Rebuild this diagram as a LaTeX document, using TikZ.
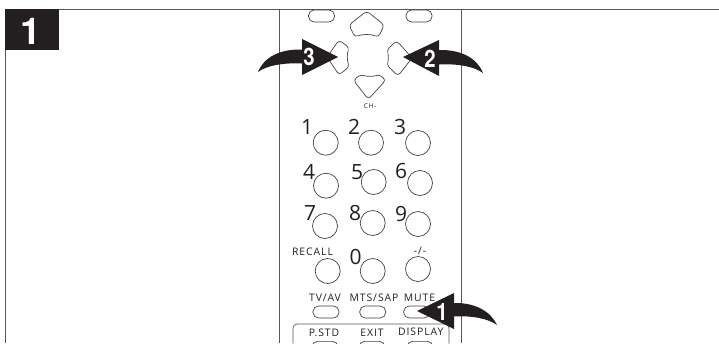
\documentclass[tikz,border=0pt]{standalone}
\usepackage{fontspec}
\setmainfont{Open Sans}
\newfontfamily\heros{TeX Gyre Heros}
\newfontfamily\spaced[LetterSpace=9]{Open Sans}
\definecolor{ink}{HTML}{231F20}
\tikzset{x=1pt,y=-1pt,
 rim/.style={draw=ink!75,line width=0.9pt},
 btn/.style={draw=ink!85,line width=0.7pt,fill=white},
 rnd/.style={btn,circle,minimum size=25pt,inner sep=0pt},
 pill/.style={btn,rounded corners=5.5pt,minimum width=26pt,minimum height=12pt,inner sep=0pt},
 dig/.style={font=\fontsize{21}{21}\selectfont,text=ink,inner sep=0pt},
 lab/.style={font=\spaced\fontsize{10.4}{11}\selectfont,text=ink,inner sep=0pt},
 bubble/.style={font=\heros\bfseries\fontsize{24}{24}\selectfont,text=white,inner sep=0pt,xscale=0.85},
 arr/.style={fill=ink,draw=none}}
\begin{document}
\begin{tikzpicture}
\useasboundingbox (0,0) rectangle (719,343);
\begin{scope}
\clip (0,0) rectangle (719,343);
% frame
\draw[rim,line width=1.7pt] (5,9.5) -- (719,9.5);
\draw[rim] (5,9) -- (5,343);
\draw[rim] (279,9.5) -- (279,343);
\draw[rim] (461,9.5) -- (461,343);
\node[fill=ink,minimum width=54pt,minimum height=41pt,inner sep=0pt,anchor=north west] (badge) at (5,9) {};
\node[font=\heros\bfseries\fontsize{37}{37}\selectfont,text=white,inner sep=0pt] (badgenum) at (31,31) {1};
% top pills
\begin{scope}
\clip (279,10.5) rectangle (461,40);
\node[pill] (tl) at (321.5,16) {};
\node[pill] (tr) at (419,16) {};
\end{scope}
% d-pad
\draw[btn,rounded corners=3.5pt] (366.7,11) -- (349,25) -- (355,37.3) .. controls (362,34) and (371,34) .. (378.3,37.3) -- (384.3,25) -- cycle;
\draw[btn,rounded corners=3.5pt] (339,40) -- (327,57) -- (339,75) -- (349.3,66.7) .. controls (347,60) and (347,54) .. (349.3,47.7) -- cycle;
\draw[btn,rounded corners=3.5pt] (396.7,40.7) -- (386.7,50) .. controls (388.5,55) and (388.5,60) .. (386.7,65) -- (398,76) -- (412,58) -- cycle;
\draw[btn,rounded corners=3.5pt] (353.3,80) -- (361.7,74) .. controls (366,76.5) and (374,76.5) .. (378.3,74) -- (386,80) -- (368.3,99.3) -- cycle;
\node[lab,font=\spaced\fontsize{6.5}{6.5}\selectfont] (chm) at (370,106) {CH-};
% buttons
\foreach \n/\x/\y in {b1/325.7/142.7, b2/371/142.7, b3/418/143,
  b4/326/185.7, b5/373.7/182, b6/420/183,
  b7/325/226, b8/372.7/223, b9/418/224,
  bz/372.7/271} {
  \node[rnd] (\n) at (\x,\y) {};
}
\foreach \n/\t/\a/\b in {d1/1/307/127,d2/2/354/127,d3/3/400/127,d4/4/309/172,d5/5/357/172.5,d6/6/401/171,d7/7/310/213,d8/8/355/213,d9/9/401/214,d0/0/355.7/256.7}
  \node[dig] (\n) at (\a,\b) {\t};
\node[rnd] (brc) at (327.7,271) {};
\node[rnd] (bdash) at (418,269) {};
\node[lab] (recall) at (312.5,252) {RECALL};
\node[lab] (dash) at (420,251) {-/-};
% pills
\node[pill] (ptv) at (326,312) {};
\node[pill] (pmts) at (372.7,312) {};
\node[pill] (pmute) at (416.7,312) {};
\node[lab] (tv) at (325,298) {TV/AV};
\node[lab] (mts) at (374,298) {MTS/SAP};
\node[lab] (mute) at (419.5,297.5) {MUTE};
% lower group
\draw[rim,line width=0.7pt,rounded corners=4pt] (293,343.5) -- (293,324) -- (449,324) -- (449,343.5);
\node[lab] (pstd) at (324,332.5) {P.STD};
\node[lab] (exit) at (372,332.5) {EXIT};
\node[lab] (disp) at (420.7,331.5) {DISPLAY};
\node[pill,anchor=north] (p1) at (325,341) {};
\node[pill,anchor=north] (p2) at (372,341) {};
\node[pill,anchor=north] (p3) at (420,341) {};
% arrows
\draw[arr] (338,57) -- (302,39) -- (302,49.5) .. controls (280,49) and (264,57) .. (258,72) .. controls (266,66) and (282,62.5) .. (302,63.5) -- (302,75) -- cycle;
\draw[arr] (403,57) -- (439,40) -- (439,50) .. controls (461,49.5) and (477,58) .. (483,73) .. controls (474,66.5) and (458,63.5) .. (439,64.5) -- (439,76) -- cycle;
\draw[arr] (417,311) -- (454,293) -- (454,303) .. controls (476,302.5) and (491,312) .. (497,325) .. controls (488,318.5) and (472,315.5) .. (454,316.5) -- (454,329) -- cycle;
\node[bubble] (n3) at (309,57) {3};
\node[bubble] (n2) at (430,59) {2};
\node[bubble] (n1) at (442,312) {1};
\end{scope}
\end{tikzpicture}
\end{document}
